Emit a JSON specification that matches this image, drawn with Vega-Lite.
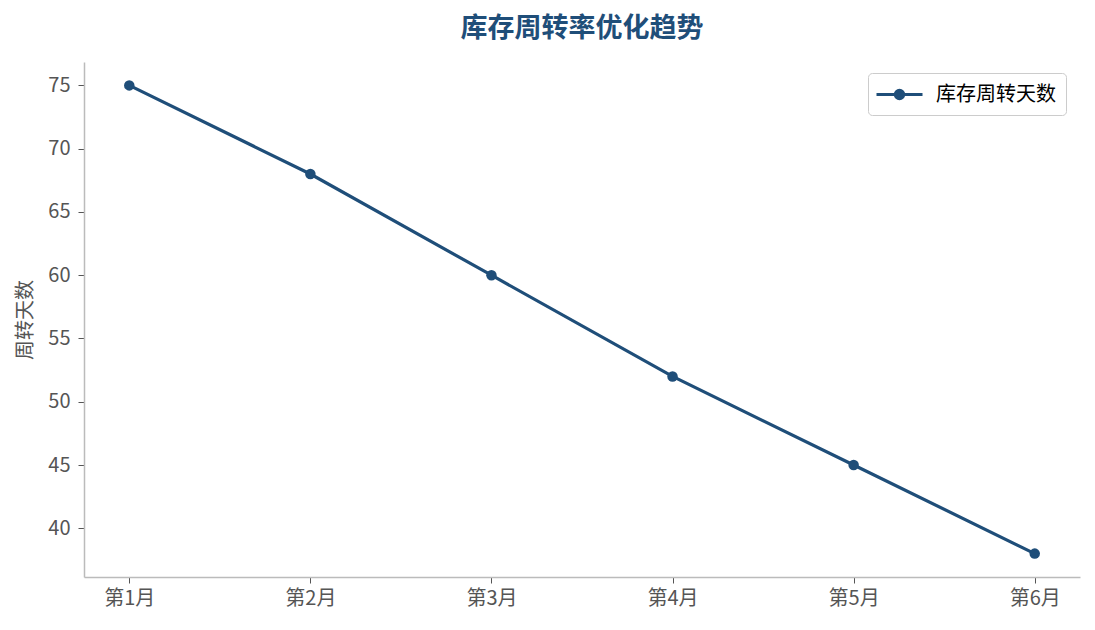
{
  "$schema": "https://vega.github.io/schema/vega-lite/v6.json",
  "autosize": {"type": "none"},
  "padding": {"left": 84, "top": 62, "right": 15, "bottom": 53},
  "width": 996,
  "height": 515,
  "background": "white",
  "title": {
    "text": "库存周转率优化趋势",
    "font": "Noto Sans CJK SC",
    "fontSize": 27,
    "fontWeight": "bold",
    "color": "#1f4e79",
    "anchor": "middle",
    "offset": 19
  },
  "data": {
    "values": [
      {"month": "第1月", "days": 75},
      {"month": "第2月", "days": 68},
      {"month": "第3月", "days": 60},
      {"month": "第4月", "days": 52},
      {"month": "第5月", "days": 45},
      {"month": "第6月", "days": 38}
    ]
  },
  "encoding": {
    "x": {
      "field": "month",
      "type": "ordinal",
      "sort": null,
      "scale": {"type": "point", "padding": 0.25},
      "axis": {"title": null, "labelAngle": 0, "labelPadding": 5}
    },
    "y": {
      "field": "days",
      "type": "quantitative",
      "scale": {"domain": [36.15, 76.85], "nice": false, "zero": false},
      "axis": {"title": "周转天数", "values": [40, 45, 50, 55, 60, 65, 70, 75], "titlePadding": 12, "labelPadding": 8}
    },
    "color": {
      "datum": "库存周转天数",
      "type": "nominal",
      "scale": {"range": ["#1f4e79"]},
      "legend": {
        "title": null,
        "orient": "none",
        "legendX": 784,
        "legendY": 11,
        "symbolType": "M-2.3,0H2.3M0,-0.42A0.42,0.42 0 1,1 0,0.42A0.42,0.42 0 1,1 0,-0.42Z",
        "symbolSize": 400,
        "symbolOffset": 10,
        "symbolStrokeWidth": 3,
        "symbolFillColor": "#1f4e79",
        "symbolStrokeColor": "#1f4e79",
        "labelOffset": 25,
        "labelFontSize": 20,
        "labelColor": "#000",
        "labelFont": "Noto Sans CJK SC",
        "padding": 10,
        "strokeColor": "#cccccc",
        "fillColor": "white",
        "cornerRadius": 4
      }
    }
  },
  "layer": [
    {"mark": {"type": "line", "strokeWidth": 3.2}},
    {"mark": {"type": "circle", "size": 110, "opacity": 1}}
  ],
  "config": {
    "view": {"stroke": null},
    "font": "Noto Sans CJK SC",
    "axis": {
      "grid": false,
      "domainColor": "#bbbbbb",
      "domainWidth": 1.5,
      "tickColor": "#555555",
      "tickSize": 6,
      "labelColor": "#555555",
      "labelFontSize": 20,
      "labelFont": "Noto Sans CJK SC",
      "titleColor": "#555555",
      "titleFontSize": 20,
      "titleFontWeight": "normal",
      "titleFont": "Noto Sans CJK SC"
    }
  }
}
